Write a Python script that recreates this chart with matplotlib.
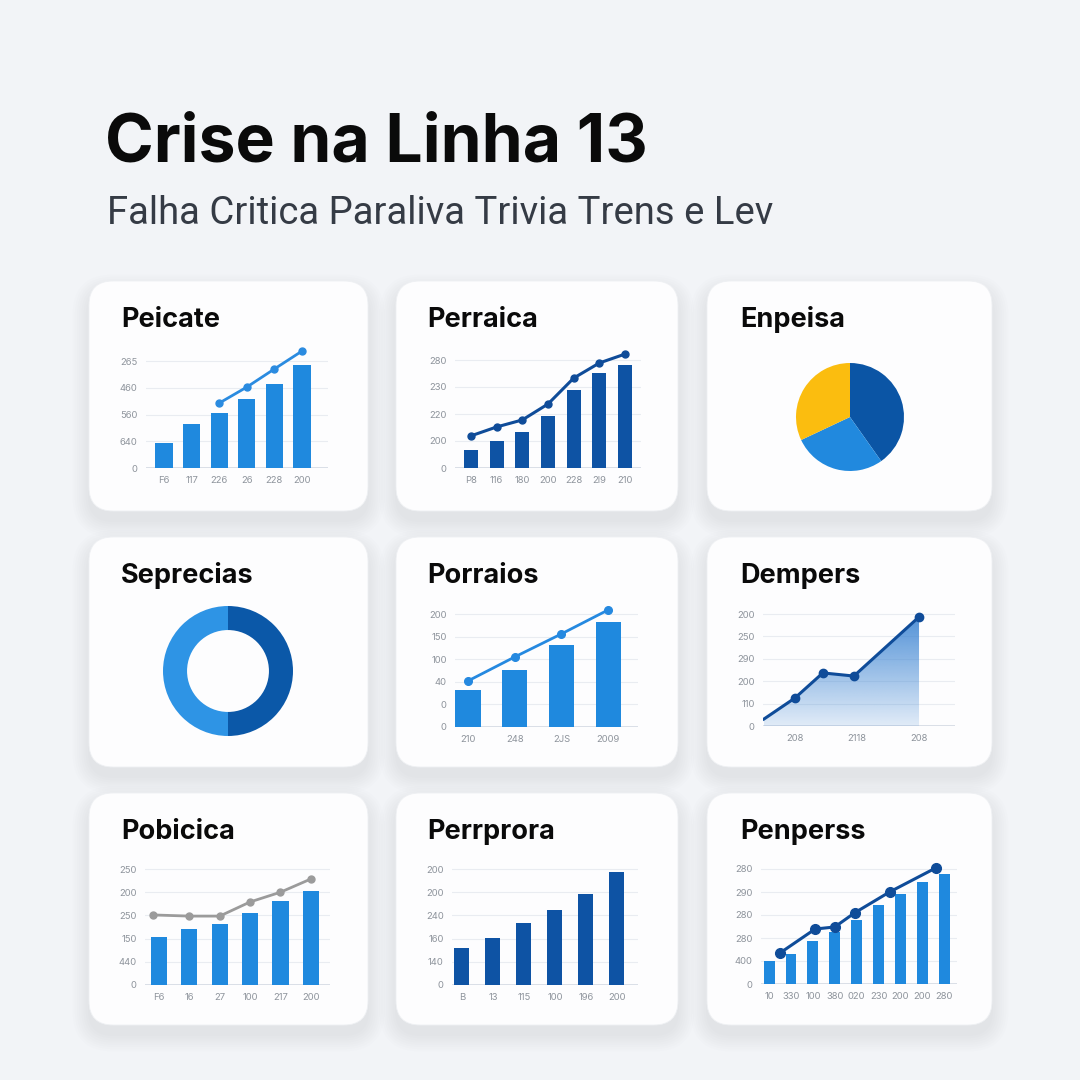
import numpy as np
import matplotlib.pyplot as plt
from matplotlib.patches import FancyBboxPatch, Polygon
from matplotlib.colors import to_rgb

plt.rcParams['font.family'] = ['Inter', 'DejaVu Sans']

# --- textos ---
titulo = 'Crise na Linha 13'
subtitulo = 'Falha Critica Paraliva Trivia Trens e Lev'
titulos_cards = ['Peicate', 'Perraica', 'Enpeisa',
                 'Seprecias', 'Porraios', 'Dempers',
                 'Pobicica', 'Perrprora', 'Penperss']

# --- dados (escala de 0 a 5 em "linhas de grade") ---
p1_x = ['F6', '117', '226', '26', '228', '200']
p1_y = ['0', '640', '560', '460', '265']
p1_barras = [0.94, 1.65, 2.06, 2.58, 3.15, 3.86]
p1_linha_x = [2, 3, 4, 5]
p1_linha = [2.43, 3.03, 3.71, 4.38]

p2_x = ['P8', '116', '180', '200', '228', '2l9', '210']
p2_y = ['0', '200', '220', '230', '280']
p2_barras = [0.67, 1.0, 1.33, 1.93, 2.89, 3.52, 3.81]
p2_linha = [1.19, 1.52, 1.78, 2.37, 3.33, 3.89, 4.22]

p3_valores = [40.2, 27.8, 32.0]

p4_valores = [50, 50]

p5_x = ['210', '248', '2JS', '2009']
p5_y = ['0', '0', '40', '100', '150', '200']
p5_barras = [1.64, 2.52, 3.63, 4.65]
p5_linha = [2.04, 3.10, 4.12, 5.18]

p6_x = [0, 1, 1.9, 2.9, 5]
p6_y = [0.31, 1.25, 2.37, 2.23, 4.87]
p6_xt = [1, 3, 5]
p6_xl = ['208', '2118', '208']
p6_yl = ['0', '110', '200', '290', '250', '200']

p7_x = ['F6', '16', '27', '100', '217', '200']
p7_y = ['0', '440', '150', '250', '200', '250']
p7_barras = [2.07, 2.41, 2.63, 3.10, 3.62, 4.05]
p7_linha_x = [-0.2, 1, 2, 3, 4, 5]
p7_linha = [3.02, 2.97, 2.97, 3.58, 4.0, 4.57]

p8_x = ['B', '13', '115', '100', '196', '200']
p8_y = ['0', '140', '160', '240', '200', '200']
p8_barras = [1.59, 2.03, 2.67, 3.23, 3.92, 4.87]

p9_x = ['10', '330', '100', '380', '020', '230', '200', '200', '280']
p9_y = ['0', '400', '280', '280', '290', '280']
p9_barras = [1.0, 1.3, 1.87, 2.26, 2.78, 3.43, 3.91, 4.43, 4.78]
p9_linha_x = [0.5, 2.1, 3.0, 3.9, 5.5, 7.6]
p9_linha = [1.35, 2.39, 2.48, 3.09, 4.0, 5.04]

# --- cores ---
azul = '#1f89de'
azul_esc = '#0e53a4'
linha_esc = '#0f4c99'
amarelo = '#fbbd0f'
cinza_txt = '#8e949c'

W = 1080
fig = plt.figure(figsize=(10.8, 10.8), dpi=100, facecolor='#f2f4f7')

# fundo em coordenadas de pixel
bg = fig.add_axes([0, 0, 1, 1])
bg.set_xlim(0, W)
bg.set_ylim(W, 0)
bg.axis('off')

cols = [(89, 368), (396, 678), (707, 992)]
rows = [(281, 511), (537, 767), (793, 1025)]
for (y0, y1) in rows:
    for (x0, x1) in cols:
        # sombra suave, mais para baixo
        for i in range(8):
            e = 1 + i * 2.2
            bg.add_patch(FancyBboxPatch((x0 - e, y0 - e + 10), x1 - x0 + 2 * e, y1 - y0 + 2 * e,
                                        boxstyle='round,pad=0,rounding_size=%d' % (24 + e),
                                        fc='#7d8ca3', ec='none', alpha=0.014))
        bg.add_patch(FancyBboxPatch((x0, y0), x1 - x0, y1 - y0,
                                    boxstyle='round,pad=0,rounding_size=24',
                                    fc='#fdfdfe', ec='#eef0f3', lw=0.6))

bg.text(105, 162, titulo, fontsize=47.5, fontweight='bold', color='#0a0a0a', va='baseline')
bg.text(107, 224, subtitulo, fontsize=27.5, color='#353b45', va='baseline',
        family=['Roboto', 'DejaVu Sans'])

tx = [121, 427, 740]
ty = [327, 583, 839]
for k, t in enumerate(titulos_cards):
    bg.text(tx[k % 3], ty[k // 3], t, fontsize=19.5, fontweight='bold', color='#0a0a0a', va='baseline')


def eixo(x0, x1, base, unid, ymax, xlim, ylabels):
    topo = base - ymax * unid
    ax = fig.add_axes([x0 / W, 1 - base / W, (x1 - x0) / W, (base - topo) / W])
    ax.patch.set_alpha(0)
    for s in ax.spines.values():
        s.set_visible(False)
    ax.set_yticks(range(len(ylabels)))
    ax.set_yticklabels(ylabels)
    ax.grid(axis='y', color='#e9ecf1', lw=0.8)
    ax.set_axisbelow(True)
    ax.axhline(0, color='#d4dae3', lw=1.2, zorder=0.5)
    ax.tick_params(length=0, labelsize=6.8, labelcolor=cinza_txt, pad=6)
    ax.set_xlim(*xlim)
    ax.set_ylim(0, ymax)
    return ax


# 1
ax = eixo(146, 328, 468, 26.7, 4.6, (-0.65, 5.94), p1_y)
ax.bar(range(len(p1_barras)), p1_barras, width=0.62, color=azul, zorder=2)
ax.plot(p1_linha_x, p1_linha, color='#2a8be0', lw=2, marker='o', ms=5, zorder=3)
ax.set_xticks(range(len(p1_x)))
ax.set_xticklabels(p1_x)

# 2
ax = eixo(455, 641, 468, 27, 4.4, (-0.62, 6.62), p2_y)
ax.bar(range(len(p2_barras)), p2_barras, width=0.55, color=azul_esc, zorder=2)
ax.plot(range(len(p2_linha)), p2_linha, color=linha_esc, lw=2.2, marker='o', ms=5, zorder=3)
ax.set_xticks(range(len(p2_x)))
ax.set_xticklabels(p2_x)

# 3 pizza
r = 54
ax = fig.add_axes([(850 - r) / W, 1 - (417 + r) / W, 2 * r / W, 2 * r / W])
ax.pie(p3_valores, colors=['#0b55a5', '#2189de', amarelo], startangle=90, counterclock=False,
       radius=1, wedgeprops=dict(lw=0))
ax.set_xlim(-1, 1)
ax.set_ylim(-1, 1)
ax.set_aspect('equal')
ax.axis('off')

# 4 rosca
r = 65
ax = fig.add_axes([(228 - r) / W, 1 - (671 + r) / W, 2 * r / W, 2 * r / W])
ax.pie(p4_valores, colors=['#0b58a8', '#2e94e5'], startangle=90, counterclock=False,
       radius=1, wedgeprops=dict(width=0.37, lw=0))
ax.set_xlim(-1, 1)
ax.set_ylim(-1, 1)
ax.set_aspect('equal')
ax.axis('off')

# 5
ax = eixo(455, 638, 727, 22.6, 5.4, (-0.28, 3.64), p5_y)
ax.bar(range(len(p5_barras)), p5_barras, width=0.54, color=azul, zorder=2)
ax.plot(range(len(p5_linha)), p5_linha, color='#2589e0', lw=2, marker='o', ms=5.5, zorder=3)
ax.set_xticks(range(len(p5_x)))
ax.set_xticklabels(p5_x)

# 6 area
ax = eixo(763, 955, 726, 22.4, 5.1, (-0.03, 6.16), p6_yl)
verts = list(zip(p6_x, p6_y)) + [(p6_x[-1], 0), (p6_x[0], 0)]
poly = Polygon(verts, closed=True, fc='none', ec='none')
ax.add_patch(poly)
grad = np.zeros((256, 1, 4))
grad[..., :3] = to_rgb('#3f86d3')
grad[..., 3] = np.linspace(0.9, 0.15, 256)[:, None]
im = ax.imshow(grad, extent=[p6_x[0], p6_x[-1], 0, max(p6_y)], origin='upper',
               aspect='auto', zorder=1)
im.set_clip_path(poly)
ax.plot(p6_x, p6_y, color=linha_esc, lw=2.2, zorder=3)
ax.plot(p6_x[1:], p6_y[1:], ls='none', marker='o', ms=6, color=linha_esc, zorder=4)
ax.set_xticks(p6_xt)
ax.set_xticklabels(p6_xl)
ax.set_xlim(-0.03, 6.16)
ax.set_ylim(0, 5.1)

# 7
ax = eixo(145, 330, 985, 23.2, 5.05, (-0.46, 5.63), p7_y)
ax.bar(range(len(p7_barras)), p7_barras, width=0.53, color=azul, zorder=2)
ax.plot(p7_linha_x, p7_linha, color='#9b9b9b', lw=2, marker='o', ms=5, zorder=3)
ax.set_xticks(range(len(p7_x)))
ax.set_xticklabels(p7_x)

# 8
ax = eixo(452, 638, 985, 23.2, 5.1, (-0.32, 5.68), p8_y)
ax.bar(range(len(p8_barras)), p8_barras, width=0.48, color=azul_esc, zorder=2)
ax.set_xticks(range(len(p8_x)))
ax.set_xticklabels(p8_x)

# 9
ax = eixo(761, 957, 984, 23, 5.3, (-0.37, 8.58), p9_y)
ax.bar(range(len(p9_barras)), p9_barras, width=0.5, color=azul, zorder=2)
ax.plot(p9_linha_x, p9_linha, color=linha_esc, lw=2.2, marker='o', ms=7, zorder=3)
ax.set_xticks(range(len(p9_x)))
ax.set_xticklabels(p9_x)

fig.savefig('out.png', dpi=100, facecolor=fig.get_facecolor())
